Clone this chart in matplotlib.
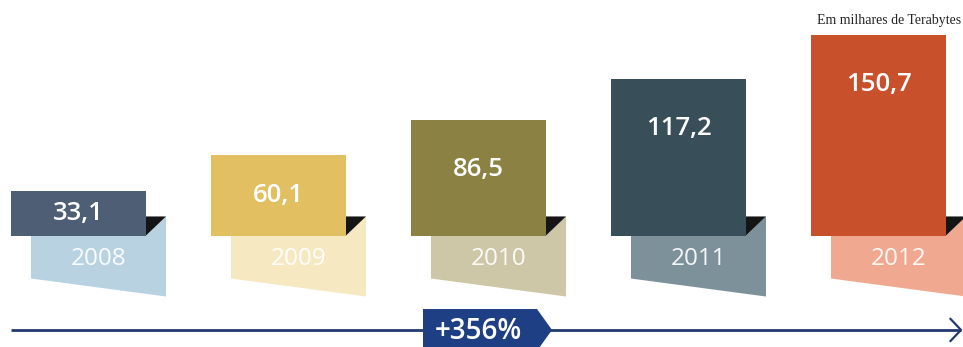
import numpy as np
import matplotlib.pyplot as plt
from matplotlib.patches import Polygon

# storage volume per year, in thousands of terabytes
years = ['2008', '2009', '2010', '2011', '2012']
values = [33.1, 60.1, 86.5, 117.2, 150.7]
growth_label = '+356%'
unit_note = 'Em milhares de Terabytes'

top_colors = ['#4d5e75', '#e2c062', '#8a8142', '#384e59', '#c8502b']
flap_colors = ['#b8d2e2', '#f6e9c2', '#cdc6a7', '#7c919a', '#f0a990']
navy = '#1f3f84'

# geometry (x in category slots, y in value units)
w = 0.675        # bar width
dx = 0.10        # horizontal shift of the year flap
fold = 14.3      # height of the folded corner
flap_lo_l = -32.3
flap_lo_r = -45.8
axis_y = -70.9

fig = plt.figure(figsize=(9.63, 3.47), dpi=100)
ax = fig.add_axes([0, 0, 1, 1])
ax.set_xlim(-0.3925, 4.4225)
ax.set_ylim(-83.7, 176.8)
ax.axis('off')

xs = np.arange(len(years))

# value bars
ax.bar(xs, values, width=w, color=top_colors, zorder=3)

for x, v, yr, fc in zip(xs, values, years, flap_colors):
    left = x - w / 2 + dx
    right = x + w / 2
    # year flap hanging behind the bar
    flap = Polygon([(left, 0), (right, 0), (right + dx, fold),
                    (right + dx, flap_lo_r), (left, flap_lo_l)],
                   closed=True, facecolor=fc, edgecolor='none', zorder=1)
    ax.add_patch(flap)
    # dark folded corner
    tri = Polygon([(right, fold), (right + dx, fold), (right, 0)],
                  closed=True, facecolor='#151515', edgecolor='none', zorder=2)
    ax.add_patch(tri)

    ax.text(x, v - min(v / 2, 37), f'{v:.1f}'.replace('.', ','),
            ha='center', va='center', color='white', fontsize=18.5,
            family='Open Sans', weight='semibold', zorder=4)
    ax.text(x + dx, -18.0, yr, ha='center', va='center', color='white',
            fontsize=17.5, family='Open Sans', alpha=0.92, zorder=4)

# timeline arrow
ax.plot([-0.3375, 4.4125], [axis_y, axis_y], color='#233a70', lw=2,
        solid_capstyle='butt', zorder=1)
ax.plot([4.36, 4.4125, 4.36], [axis_y + 8.3, axis_y, axis_y - 8.3],
        color='#233a70', lw=1.6, zorder=1)

# growth badge
badge = Polygon([(1.7225, -55.2), (2.2925, -55.2), (2.3675, axis_y),
                 (2.2925, -86.6), (1.7225, -86.6)],
                closed=True, facecolor=navy, edgecolor='none', zorder=2)
ax.add_patch(badge)
ax.text(1.9975, -78.0, growth_label, ha='center', va='baseline',
        color='white', fontsize=20, family='Open Sans', weight='semibold',
        zorder=3)

ax.text(4.4125, 176.8 - 20 / 1.332, unit_note, ha='right', va='center',
        fontsize=10, family='Liberation Serif', color='#222222')

fig.savefig('out.png', dpi=100)
